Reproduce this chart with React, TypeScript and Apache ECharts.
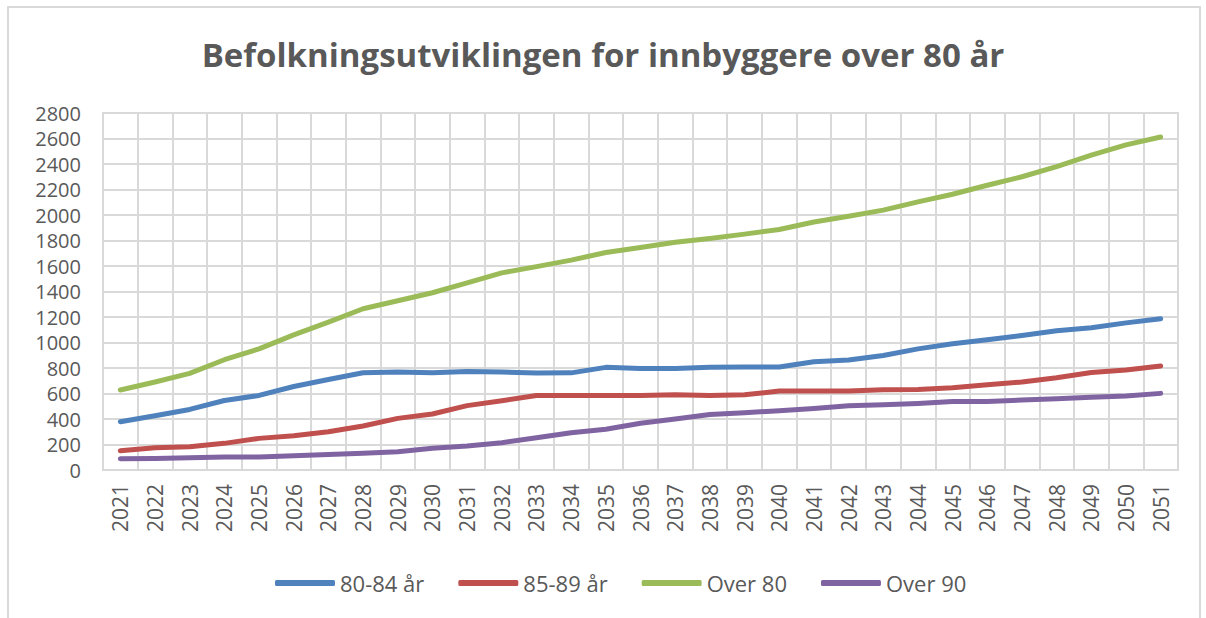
import React, { useEffect, useRef } from "react";
import * as echarts from "echarts";

const years = [
  "2021", "2022", "2023", "2024", "2025", "2026", "2027", "2028", "2029", "2030",
  "2031", "2032", "2033", "2034", "2035", "2036", "2037", "2038", "2039", "2040",
  "2041", "2042", "2043", "2044", "2045", "2046", "2047", "2048", "2049", "2050", "2051",
];

const age80to84 = [
  379, 425, 475, 545, 585, 655, 710, 763, 768, 763,
  772, 768, 760, 762, 805, 797, 797, 805, 808, 808,
  849, 862, 898, 950, 990, 1022, 1055, 1092, 1115, 1154, 1186,
];

const age85to89 = [
  151, 175, 183, 209, 248, 268, 300, 345, 405, 439,
  505, 543, 585, 585, 585, 585, 590, 585, 590, 619,
  619, 620, 630, 632, 645, 668, 690, 724, 765, 784, 815,
];

const over80 = [
  627, 690, 758, 865, 950, 1060, 1160, 1265, 1327, 1390,
  1468, 1546, 1595, 1646, 1706, 1745, 1787, 1816, 1850, 1886,
  1945, 1990, 2038, 2103, 2163, 2233, 2300, 2380, 2470, 2550, 2612,
];

const over90 = [
  88, 90, 97, 102, 102, 112, 122, 131, 144, 170,
  188, 214, 253, 292, 320, 366, 400, 436, 449, 465,
  483, 504, 512, 522, 538, 538, 549, 559, 570, 580, 601,
];

const seriesNames = ["80-84 år", "85-89 år", "Over 80", "Over 90"];
const seriesColors = ["#4F81BD", "#C0504D", "#9BBB59", "#8064A2"];
const titleText = "Befolkningsutviklingen for innbyggere over 80 år";

export default function App() {
  const ref = useRef<HTMLDivElement>(null);

  useEffect(() => {
    if (!ref.current) return;
    const chart = echarts.init(ref.current, undefined, { renderer: "svg" });
    const dataSets = [age80to84, age85to89, over80, over90];
    const font = "'Open Sans', sans-serif";
    chart.setOption({
      animation: false,
      backgroundColor: "#ffffff",
      title: {
        text: titleText,
        left: "center",
        top: 33,
        textStyle: {
          fontFamily: font,
          fontSize: 33,
          fontWeight: "bold",
          color: "#595959",
        },
      },
      graphic: [
        {
          type: "rect",
          shape: { x: 8, y: 7, width: 1192, height: 630 },
          style: { fill: "none", stroke: "#D9D9D9", lineWidth: 2 },
          silent: true,
        },
      ],
      legend: {
        top: 567,
        left: 270,
        itemWidth: 60,
        itemHeight: 6,
        itemGap: 34,
        icon: "roundRect",
        textStyle: { fontFamily: font, fontSize: 22, color: "#595959" },
        data: seriesNames,
      },
      grid: {
        left: 103,
        right: 28,
        top: 113,
        bottom: 148,
        show: true,
        borderColor: "#D9D9D9",
        borderWidth: 2,
      },
      xAxis: {
        type: "category",
        data: years,
        boundaryGap: true,
        axisLine: { lineStyle: { color: "#D9D9D9", width: 2 } },
        axisTick: { show: false },
        splitLine: { show: true, interval: 0, lineStyle: { color: "#D9D9D9", width: 2 } },
        axisLabel: {
          interval: 0,
          rotate: 90,
          margin: 14,
          fontFamily: font,
          fontSize: 21,
          lineHeight: 21,
          color: "#595959",
        },
      },
      yAxis: {
        type: "value",
        min: 0,
        max: 2800,
        interval: 200,
        axisLine: { show: false },
        axisTick: { show: false },
        splitLine: { lineStyle: { color: "#D9D9D9", width: 2 } },
        axisLabel: {
          margin: 22,
          fontFamily: font,
          fontSize: 20,
          lineHeight: 20,
          color: "#595959",
          formatter: (v: number) => String(v),
        },
      },
      series: seriesNames.map((name, i) => ({
        name,
        type: "line",
        data: dataSets[i],
        showSymbol: false,
        symbol: "none",
        color: seriesColors[i],
        lineStyle: { width: 5, color: seriesColors[i], cap: "round", join: "round" },
      })),
    });
    return () => chart.dispose();
  }, []);

  return (
    <div
      ref={ref}
      style={{ position: "fixed", left: 0, top: 0, width: 1206, height: 618 }}
    />
  );
}
